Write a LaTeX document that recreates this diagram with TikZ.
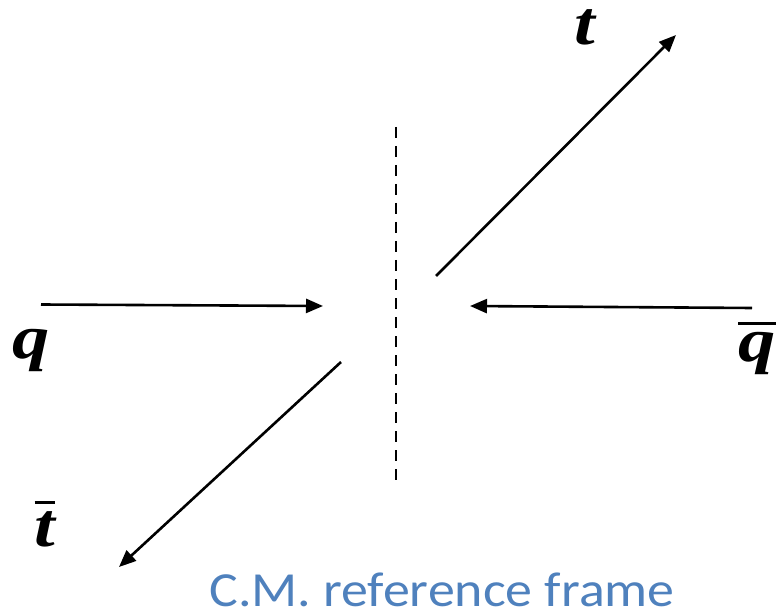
\documentclass[tikz,border=0pt]{standalone}
\usepackage{fontspec}
\setmainfont{Liberation Serif}
\newfontfamily\capfont{Carlito}
\usetikzlibrary{arrows.meta}
\definecolor{capblue}{HTML}{4F81BD}
\newcommand\lblfont{\fontsize{62}{62}\selectfont\bfseries\itshape}
\newcommand\wide[1]{\scalebox{1.2}[1]{#1}}
\newcommand\barred[1]{\vbox{\hrule height 2.8pt\kern 7pt\hbox{#1}}}
\begin{document}
\begin{tikzpicture}[x=1pt,y=-1pt,
  arr/.style={line width=2.6pt,-{Triangle[length=17pt,width=14pt]}},
  lbl/.style={font=\lblfont, inner sep=0pt}]
\useasboundingbox (0,0) rectangle (780,615);
\coordinate (qs) at (41,304.5);
\coordinate (qe) at (323,306);
\coordinate (qbs) at (752,308);
\coordinate (qbe) at (470,306);
\coordinate (ts) at (436,276);
\coordinate (te) at (676,35);
\coordinate (tbs) at (341,362);
\coordinate (tbe) at (119,567);
\coordinate (dtop) at (396,127);
\coordinate (dbot) at (396,485);
\draw[arr] (qs) -- (qe);
\draw[arr] (qbs) -- (qbe);
\draw[arr] (ts) -- (te);
\draw[arr] (tbs) -- (tbe);
\draw[line width=2.6pt, dash pattern=on 11pt off 8pt] (dtop) -- (dbot);
\node[lbl, anchor=base] (q) at (31,358) {\wide{q}};
\node[lbl, anchor=base] (qb) at (757,361) {\wide{\barred{\lblfont q}}};
\node[lbl, anchor=base] (t) at (585,45) {\wide{t}};
\node[lbl, anchor=base] (tb) at (45,546) {\wide{\barred{\lblfont t}}};
\node[font=\capfont\fontsize{49}{49}\selectfont, text=capblue, inner sep=0pt, anchor=base] (cap) at (442,606) {\scalebox{1.1}[1]{C.M. reference frame}};
\end{tikzpicture}
\end{document}
